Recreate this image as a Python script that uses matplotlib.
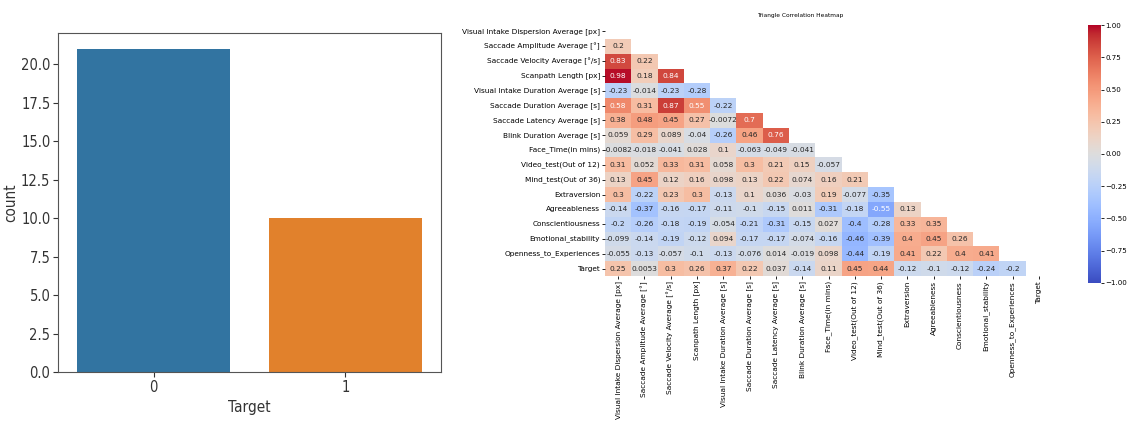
import numpy as np
import matplotlib
matplotlib.use("Agg")
import matplotlib.pyplot as plt
import seaborn as sns

# ---- data ----
target_classes = ["0", "1"]
target_counts = [21, 10]

labels = [
    "Visual Intake Dispersion Average [px]",
    "Saccade Amplitude Average [°]",
    "Saccade Velocity Average [°/s]",
    "Scanpath Length [px]",
    "Visual Intake Duration Average [s]",
    "Saccade Duration Average [s]",
    "Saccade Latency Average [s]",
    "Blink Duration Average [s]",
    "Face_Time(in mins)",
    "Video_test(Out of 12)",
    "Mind_test(Out of 36)",
    "Extraversion",
    "Agreeableness",
    "Conscientiousness",
    "Emotional_stability",
    "Openness_to_Experiences",
    "Target",
]

lower_rows = [
    [],
    [0.2],
    [0.83, 0.22],
    [0.98, 0.18, 0.84],
    [-0.23, -0.014, -0.23, -0.28],
    [0.58, 0.31, 0.87, 0.55, -0.22],
    [0.38, 0.48, 0.45, 0.27, -0.0072, 0.7],
    [0.059, 0.29, 0.089, -0.04, -0.26, 0.46, 0.76],
    [-0.0082, -0.018, -0.041, 0.028, 0.1, -0.063, -0.049, -0.041],
    [0.31, 0.052, 0.33, 0.31, 0.058, 0.3, 0.21, 0.15, -0.057],
    [0.13, 0.45, 0.12, 0.16, 0.098, 0.13, 0.22, 0.074, 0.16, 0.21],
    [0.3, -0.22, 0.23, 0.3, -0.13, 0.1, 0.036, -0.03, 0.19, -0.077, -0.35],
    [-0.14, -0.37, -0.16, -0.17, -0.11, -0.1, -0.15, 0.011, -0.31, -0.18, -0.55, 0.13],
    [-0.2, -0.26, -0.18, -0.19, -0.054, -0.21, -0.31, -0.15, 0.027, -0.4, -0.28, 0.33, 0.35],
    [-0.099, -0.14, -0.19, -0.12, 0.094, -0.17, -0.17, -0.074, -0.16, -0.46, -0.39, 0.4, 0.45, 0.26],
    [-0.055, -0.13, -0.057, -0.1, -0.13, -0.076, 0.014, -0.019, 0.098, -0.44, -0.19, 0.41, 0.22, 0.4, 0.41],
    [0.25, 0.0053, 0.3, 0.26, 0.37, 0.22, 0.037, -0.14, 0.11, 0.45, 0.44, -0.12, -0.1, -0.12, -0.24, -0.2],
]

n = len(labels)
corr = np.eye(n)
for i, row in enumerate(lower_rows):
    for j, v in enumerate(row):
        corr[i, j] = v
        corr[j, i] = v
mask = np.triu(np.ones_like(corr, dtype=bool))

fig = plt.figure(figsize=(11.3, 4.26), dpi=100)

# ---- count plot ----
cf = dict(family="DejaVu Sans", stretch="condensed")
ax1 = fig.add_axes([0.0513, 0.1268, 0.339, 0.7958])
colors = ["#3274a1", "#e1812c"]
ax1.bar(target_classes, target_counts, width=0.8, color=colors)
ax1.set_xlim(-0.5, 1.5)
ax1.set_ylim(0, 22.05)
ax1.set_yticks(np.arange(0, 21, 2.5))
ax1.tick_params(colors="#333333", pad=2)
for lab in ax1.get_yticklabels() + ax1.get_xticklabels():
    lab.set_fontsize(10.5)
    lab.set_fontstretch("condensed")
ax1.set_ylabel("count", fontsize=11, color="#333333", **cf)
ax1.yaxis.set_label_coords(-0.104, 0.5)
ax1.set_xlabel("Target", fontsize=11, color="#333333", **cf)
for s in ax1.spines.values():
    s.set_color("#555555")

# ---- heatmap ----
ax2 = fig.add_axes([0.5354, 0.352, 0.3956, 0.5915])
cax = fig.add_axes([0.9625, 0.3357, 0.0115, 0.6056])
sns.heatmap(corr, mask=mask, vmin=-1, vmax=1, cmap="coolwarm", annot=True,
            annot_kws={"fontsize": 5.4}, xticklabels=labels, yticklabels=labels,
            ax=ax2, cbar_ax=cax)
ax2.tick_params(length=2, width=0.6, pad=1.5)
ax2.set_xticklabels(labels, rotation=90, fontsize=5.3)
ax2.set_yticklabels(labels, rotation=0, fontsize=5.3)
fig.text(800 / 1130, 1 - 15 / 426, "Triangle Correlation Heatmap", fontsize=4.2,
         ha="center", va="center")
cax.tick_params(labelsize=5.1, length=2, width=0.6, pad=1.5)

fig.savefig("out.png", dpi=100)
